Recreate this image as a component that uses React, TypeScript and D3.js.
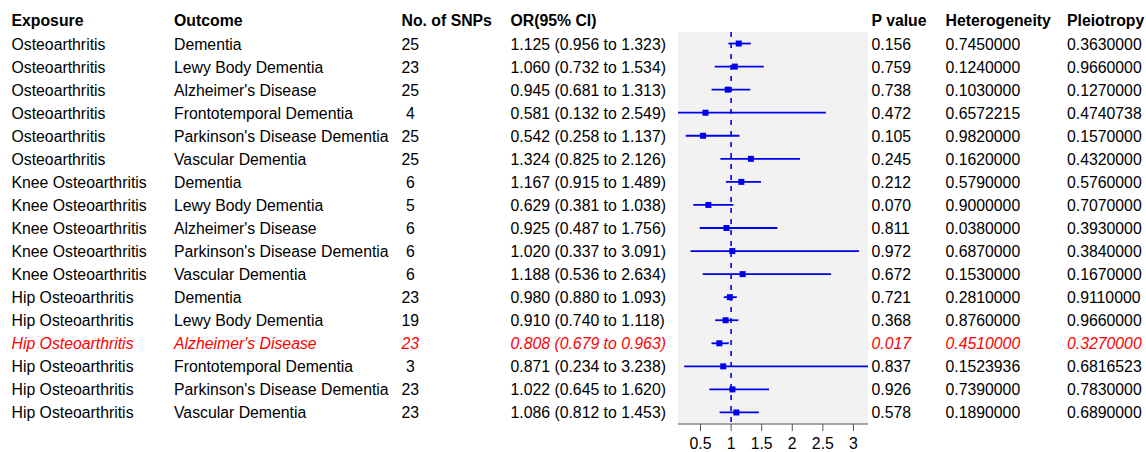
import React from "react";
import * as d3 from "d3";

const exposures = [
  "Osteoarthritis", "Osteoarthritis", "Osteoarthritis", "Osteoarthritis", "Osteoarthritis", "Osteoarthritis",
  "Knee Osteoarthritis", "Knee Osteoarthritis", "Knee Osteoarthritis", "Knee Osteoarthritis", "Knee Osteoarthritis",
  "Hip Osteoarthritis", "Hip Osteoarthritis", "Hip Osteoarthritis", "Hip Osteoarthritis", "Hip Osteoarthritis", "Hip Osteoarthritis",
];
const outcomes = [
  "Dementia", "Lewy Body Dementia", "Alzheimer's Disease", "Frontotemporal Dementia", "Parkinson's Disease Dementia", "Vascular Dementia",
  "Dementia", "Lewy Body Dementia", "Alzheimer's Disease", "Parkinson's Disease Dementia", "Vascular Dementia",
  "Dementia", "Lewy Body Dementia", "Alzheimer's Disease", "Frontotemporal Dementia", "Parkinson's Disease Dementia", "Vascular Dementia",
];
const snps = [25, 23, 25, 4, 25, 25, 6, 5, 6, 6, 6, 23, 19, 23, 3, 23, 23];
const orValues = [1.125, 1.06, 0.945, 0.581, 0.542, 1.324, 1.167, 0.629, 0.925, 1.02, 1.188, 0.98, 0.91, 0.808, 0.871, 1.022, 1.086];
const lowerCI = [0.956, 0.732, 0.681, 0.132, 0.258, 0.825, 0.915, 0.381, 0.487, 0.337, 0.536, 0.88, 0.74, 0.679, 0.234, 0.645, 0.812];
const upperCI = [1.323, 1.534, 1.313, 2.549, 1.137, 2.126, 1.489, 1.038, 1.756, 3.091, 2.634, 1.093, 1.118, 0.963, 3.238, 1.62, 1.453];
const pValues = [0.156, 0.759, 0.738, 0.472, 0.105, 0.245, 0.212, 0.07, 0.811, 0.972, 0.672, 0.721, 0.368, 0.017, 0.837, 0.926, 0.578];
const heterogeneity = [0.745, 0.124, 0.103, 0.6572215, 0.982, 0.162, 0.579, 0.9, 0.038, 0.687, 0.153, 0.281, 0.876, 0.451, 0.1523936, 0.739, 0.189];
const pleiotropy = [0.363, 0.966, 0.127, 0.4740738, 0.157, 0.432, 0.576, 0.707, 0.393, 0.384, 0.167, 0.911, 0.966, 0.327, 0.6816523, 0.783, 0.689];
const headers = ["Exposure", "Outcome", "No. of SNPs", "OR(95% CI)", "P value", "Heterogeneity", "Pleiotropy"];
const axisTicks = [0.5, 1, 1.5, 2, 2.5, 3];
const highlightRow = 13;

const W = 1146;
const H = 452;
const FONT = "'Liberation Sans', Arial, Helvetica, sans-serif";
const FS = 15.8;
const BLUE = "#0000EE";

export default function App() {
  const panelLeft = 678;
  const panelRight = 868;
  const panelTop = 32;
  const panelBottom = 424;

  const x = d3
    .scaleLinear()
    .domain([d3.min(lowerCI) as number, d3.max(upperCI) as number])
    .range([panelLeft, panelRight]);
  const idx = d3.range(exposures.length);
  const y = d3.scaleBand<number>().domain(idx).range([panelTop, panelBottom]).padding(0);
  const rc = (i: number) => (y(i) as number) + y.bandwidth() / 2;

  const colX = [11.5, 174, 401.5, 510.5, 871.5, 945.5, 1067];

  const rowTexts = idx.map((i) => [
    exposures[i],
    outcomes[i],
    String(snps[i]).padStart(2, " "),
    `${orValues[i].toFixed(3)} (${lowerCI[i].toFixed(3)} to ${upperCI[i].toFixed(3)})`,
    pValues[i].toFixed(3),
    heterogeneity[i].toFixed(7),
    pleiotropy[i].toFixed(7),
  ]);

  const sq = 6;

  return (
    <svg
      width={W}
      height={H}
      style={{ position: "absolute", left: 0, top: 0, background: "#fff" }}
      fontFamily={FONT}
      fontSize={FS}
    >
      <rect x={panelLeft} y={panelTop} width={panelRight - panelLeft} height={panelBottom - panelTop} fill="#F2F2F2" />

      {headers.map((h, j) => (
        <text key={h} x={colX[j]} y={26} fontWeight="bold" fill="#000">
          {h}
        </text>
      ))}

      {rowTexts.map((cells, i) =>
        cells.map((c, j) => (
          <text
            key={`${i}-${j}`}
            x={colX[j]}
            y={rc(i) + 6}
            fill={i === highlightRow ? "#FF0000" : "#000"}
            fontStyle={i === highlightRow ? "italic" : "normal"}
            style={{ whiteSpace: "pre" }}
          >
            {c}
          </text>
        ))
      )}

      <line
        x1={x(1)}
        x2={x(1)}
        y1={panelTop}
        y2={panelBottom}
        stroke={BLUE}
        strokeWidth={1.6}
        strokeDasharray="5,6"
      />

      {idx.map((i) => (
        <g key={`ci-${i}`}>
          <line x1={x(lowerCI[i])} x2={x(upperCI[i])} y1={rc(i)} y2={rc(i)} stroke={BLUE} strokeWidth={1.8} />
          <rect x={x(orValues[i]) - sq / 2} y={rc(i) - sq / 2} width={sq} height={sq} fill={BLUE} />
        </g>
      ))}

      <line x1={panelLeft} x2={panelRight} y1={panelBottom} y2={panelBottom} stroke="#555" strokeWidth={1} />
      {axisTicks.map((t) => (
        <g key={`t-${t}`}>
          <line x1={x(t)} x2={x(t)} y1={panelBottom} y2={panelBottom + 7} stroke="#555" strokeWidth={1} />
          <text x={x(t)} y={449} textAnchor="middle" fill="#000">
            {String(t)}
          </text>
        </g>
      ))}
    </svg>
  );
}
